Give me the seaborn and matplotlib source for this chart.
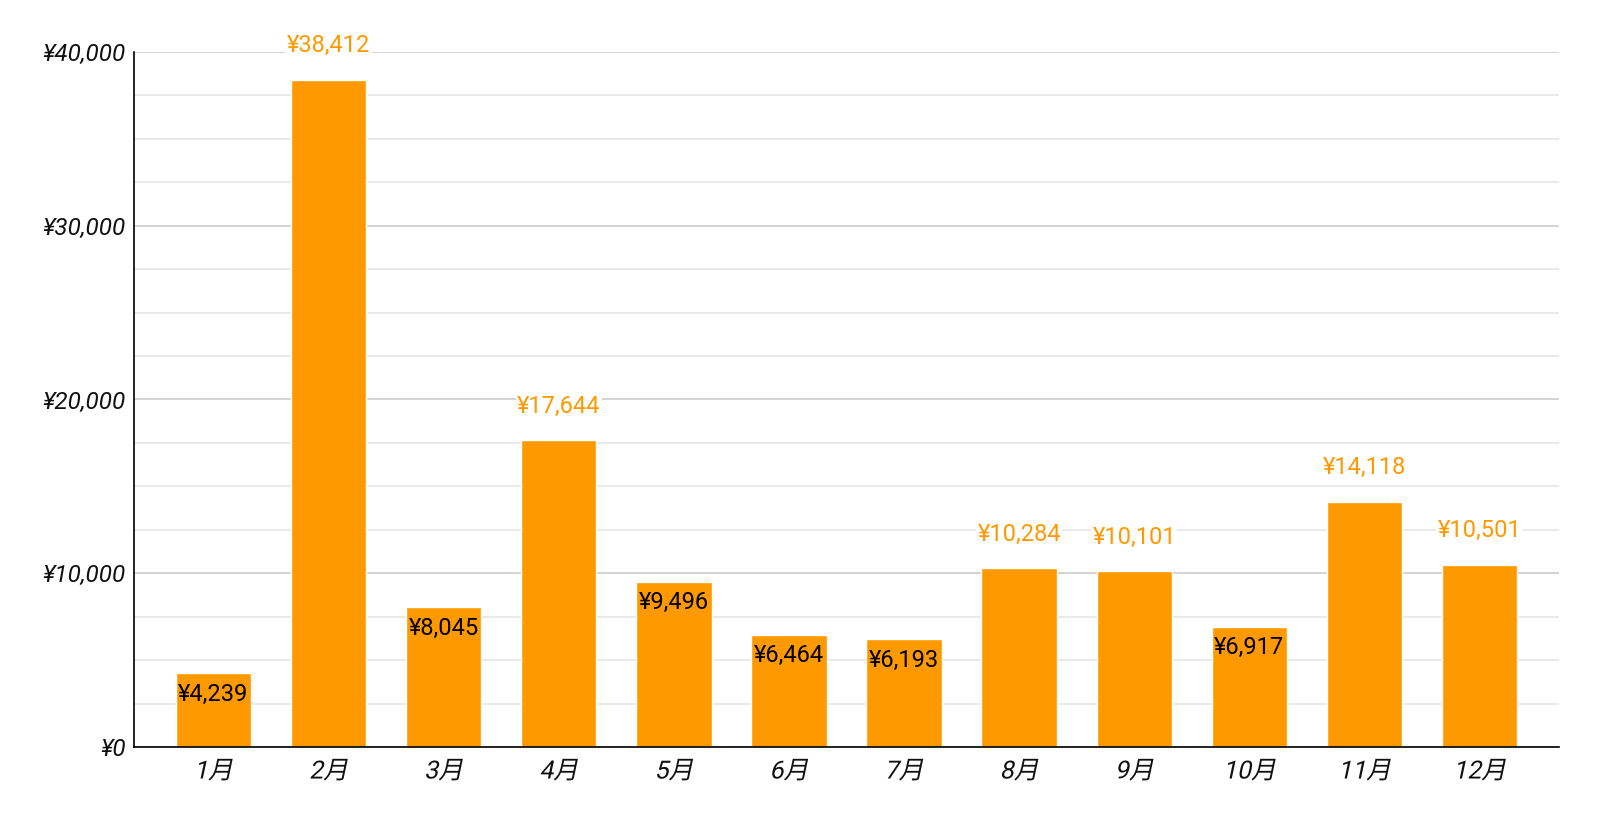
import matplotlib
matplotlib.use("Agg")
import matplotlib.pyplot as plt
import seaborn as sns
import pandas as pd
from matplotlib.ticker import MultipleLocator, FuncFormatter
from matplotlib.patheffects import AbstractPathEffect
from matplotlib.transforms import Affine2D

months = ["1月", "2月", "3月", "4月", "5月", "6月", "7月", "8月", "9月", "10月", "11月", "12月"]
values = [4239, 38412, 8045, 17644, 9496, 6464, 6193, 10284, 10101, 6917, 14118, 10501]


class Slant(AbstractPathEffect):
    """Synthesised oblique style (for CJK glyphs that have no italic face)."""
    def __init__(self, deg=12):
        super().__init__()
        self.deg = deg

    def draw_path(self, renderer, gc, tpath, affine, rgbFace=None):
        m = affine.get_matrix()
        tx, ty = m[0, 2], m[1, 2]
        new = affine + Affine2D().translate(-tx, -ty).skew_deg(self.deg, 0).translate(tx, ty)
        renderer.draw_path(gc, tpath, new, rgbFace)


sns.set_theme(style="white")
plt.rcParams['font.family'] = ['Roboto', 'Noto Sans CJK JP', 'DejaVu Sans']

df = pd.DataFrame({"month": months, "value": values})
W, H = 1600, 822
L, R, T, B = 134, 1559, 52, 747
fig = plt.figure(figsize=(W / 100, H / 100), dpi=100)
ax = fig.add_axes([L / W, 1 - B / H, (R - L) / W, (B - T) / H])

sns.barplot(data=df, x="month", y="value", color="#FF9900", saturation=1, width=0.655, ax=ax, zorder=3)

ax.set_ylim(0, 40000)
ax.set_xlim(-0.69, 11.69)
ax.yaxis.set_major_locator(MultipleLocator(10000))
ax.yaxis.set_minor_locator(MultipleLocator(2500))
ax.grid(which="major", axis="y", color="#cccccc", linewidth=1.2, zorder=0)
ax.grid(which="minor", axis="y", color="#e6e6e6", linewidth=1.2, zorder=0)
ax.set_axisbelow(True)
ax.yaxis.set_major_formatter(FuncFormatter(lambda v, p: f"¥{int(v):,}"))
ax.tick_params(axis="both", which="both", length=0)
ax.tick_params(axis="y", pad=6, labelsize=17.5)
ax.tick_params(axis="x", pad=9, labelsize=18)
for lbl in ax.get_yticklabels():
    lbl.set_fontstyle("italic")
    lbl.set_color("#111111")
for lbl in ax.get_xticklabels():
    lbl.set_color("#111111")
    lbl.set_path_effects([Slant(12)])
ax.set_xlabel("")
ax.set_ylabel("")
for s in ["top", "right"]:
    ax.spines[s].set_visible(False)
for s in ["left", "bottom"]:
    ax.spines[s].set_color("black")
    ax.spines[s].set_linewidth(1.2)
    ax.spines[s].set_zorder(5)

for patch, v in zip(ax.patches, values):
    cx = patch.get_x() + patch.get_width() / 2
    top = patch.get_height()
    txt = f"¥{v:,}"
    if v < 10000:
        ax.annotate(txt, (cx, top), xytext=(0, -15), textcoords="offset points",
                    ha="center", va="center", fontsize=17, color="black", zorder=6)
    else:
        ax.annotate(txt, (cx, top), xytext=(0, 24.5), textcoords="offset points",
                    ha="center", va="center", fontsize=17, color="#FF9900", zorder=6,
                    bbox=dict(facecolor="white", edgecolor="none", pad=1))

fig.savefig("out.png", dpi=100, facecolor="white")
